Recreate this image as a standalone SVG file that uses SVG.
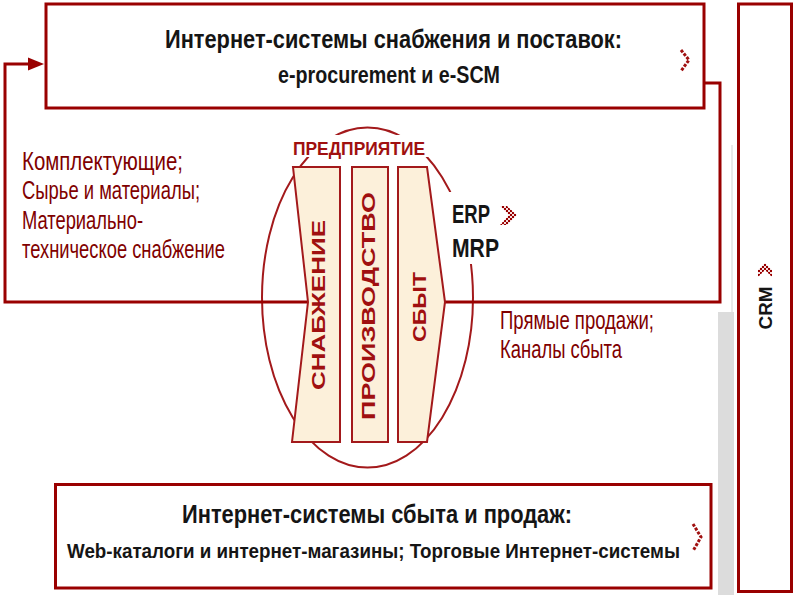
<svg xmlns="http://www.w3.org/2000/svg" width="794" height="595" viewBox="0 0 794 595">
<style>
.box{fill:#fff;stroke:#990000;stroke-width:3}
.conn{fill:none;stroke:#990000;stroke-width:3}
.panel{fill:#fcf0da;stroke:#a3191b;stroke-width:2}
.title{font-family:"Liberation Sans",Arial,sans-serif;font-weight:bold;fill:#151515}
.red{font-family:"Liberation Sans",Arial,sans-serif;fill:#800000;font-size:25px}
.ptext{font-family:"Liberation Sans",Arial,sans-serif;font-weight:bold;fill:#a01010;font-size:19px}
.chev{fill:none;stroke:#a01010;stroke-width:3;stroke-dasharray:3 1.5}
</style>
<defs>
<marker id="arr" viewBox="0 0 16 16" refX="0" refY="8" markerWidth="16" markerHeight="16" markerUnits="userSpaceOnUse" orient="auto">
<path d="M0 1.5 L16 8 L0 14.5 z" fill="#990000"/>
</marker>
<pattern id="chk" width="4" height="4" patternUnits="userSpaceOnUse">
<rect width="4" height="4" fill="#f4dede"/>
<rect width="2" height="2" fill="#990000"/>
<rect x="2" y="2" width="2" height="2" fill="#990000"/>
</pattern>
</defs>
<rect width="794" height="595" fill="#fff"/>
<rect x="718" y="312" width="16" height="283" fill="#dcdcdc"/>
<line x1="732" y1="145" x2="732" y2="312" stroke="#e2e2e2" stroke-width="1.5"/>

<g id="enterprise">
<ellipse cx="367.5" cy="297.5" rx="105.5" ry="170" fill="none" stroke="#a3191b" stroke-width="2"/>
<rect x="285" y="135" width="145" height="22" fill="#fff"/>
<rect x="448" y="192" width="58" height="72" fill="#fff"/>
<text x="293" y="155" class="ptext" font-size="21" textLength="132" lengthAdjust="spacingAndGlyphs">ПРЕДПРИЯТИЕ</text>
</g>

<g id="connectors">
<path class="conn" d="M308 302 H5 V64 H28" marker-end="url(#arr)"/>
<path class="conn" d="M704 83 H720 V302 H445"/>
</g>

<g id="top-box">
<rect class="box" x="46" y="4" width="658" height="104"/>
<text class="title" x="165" y="48" font-size="25" textLength="457" lengthAdjust="spacingAndGlyphs">Интернет-системы снабжения и поставок:</text>
<text class="title" x="278" y="83" font-size="24" textLength="222" lengthAdjust="spacingAndGlyphs">e-procurement и e-SCM</text>
<path class="chev" d="M681 50 L689 60 L681 71"/>
</g>

<g id="bottom-box">
<rect class="box" x="55.5" y="484.5" width="655.5" height="103.5"/>
<text class="title" x="182" y="523" font-size="25" textLength="390" lengthAdjust="spacingAndGlyphs">Интернет-системы сбыта и продаж:</text>
<text class="title" x="67" y="558" font-size="21" textLength="613" lengthAdjust="spacingAndGlyphs">Web-каталоги и интернет-магазины; Торговые Интернет-системы</text>
<path class="chev" d="M693 524 L701 537 L693 551"/>
</g>

<g id="crm">
<rect class="box" x="738.5" y="4" width="53" height="587.5"/>
<text class="title" transform="translate(772,308) rotate(-90)" text-anchor="middle" font-size="19" textLength="43" lengthAdjust="spacingAndGlyphs">CRM</text>
<path d="M758 277 L758 270 L765 263 L772 270 L772 277 L765 270 z" fill="url(#chk)"/>
</g>

<g id="supply-panel">
<polygon class="panel" points="293,167 340,167 340,442 292,442 308,302"/>
<text class="ptext" transform="translate(325,305) rotate(-90)" text-anchor="middle" textLength="170" lengthAdjust="spacingAndGlyphs">СНАБЖЕНИЕ</text>
</g>

<g id="production-panel">
<rect class="panel" x="352" y="167" width="36" height="275"/>
<text class="ptext" transform="translate(375,306) rotate(-90)" text-anchor="middle" textLength="228" lengthAdjust="spacingAndGlyphs">ПРОИЗВОДСТВО</text>
</g>

<g id="sales-panel">
<polygon class="panel" points="398,167 427,167 445,302 427,442 398,442"/>
<text class="ptext" transform="translate(426,307) rotate(-90)" text-anchor="middle" textLength="70" lengthAdjust="spacingAndGlyphs">СБЫТ</text>
</g>

<g id="erp">
<text class="title" x="452" y="223" font-size="25" textLength="38" lengthAdjust="spacingAndGlyphs">ERP</text>
<text class="title" x="452" y="257" font-size="25" textLength="47" lengthAdjust="spacingAndGlyphs">MRP</text>
<path d="M500 206 L507 206 L517 215 L507 225 L500 225 L509 215 z" fill="url(#chk)"/>
</g>

<g id="supply-text">
<text class="red" x="22" y="170" textLength="161" lengthAdjust="spacingAndGlyphs">Комплектующие;</text>
<text class="red" x="22" y="199" textLength="178" lengthAdjust="spacingAndGlyphs">Сырье и материалы;</text>
<text class="red" x="22" y="229" textLength="121" lengthAdjust="spacingAndGlyphs">Материально-</text>
<text class="red" x="22" y="258" textLength="203" lengthAdjust="spacingAndGlyphs">техническое снабжение</text>
</g>

<g id="sales-text">
<text class="red" x="500" y="329" textLength="154" lengthAdjust="spacingAndGlyphs">Прямые продажи;</text>
<text class="red" x="500" y="358" textLength="122" lengthAdjust="spacingAndGlyphs">Каналы сбыта</text>
</g>
</svg>
